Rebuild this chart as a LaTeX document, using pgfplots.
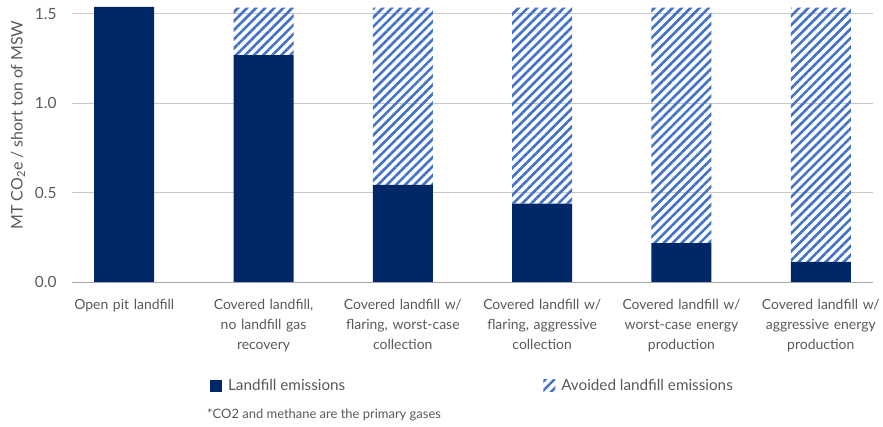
\documentclass[border=0pt]{standalone}
\usepackage{fontspec}
\setmainfont{Lato}
\usepackage{pgfplots}
\pgfplotsset{compat=1.18}
\usetikzlibrary{patterns.meta}
\definecolor{navy}{HTML}{002868}
\definecolor{stripe}{HTML}{4472C4}
\definecolor{txt}{HTML}{595959}
\definecolor{gridc}{HTML}{C8C8C8}
\definecolor{axisc}{HTML}{A6A6A6}
\begin{document}
\begin{tikzpicture}
\useasboundingbox (0,0) rectangle (883bp,427bp);
\begin{axis}[
  at={(72bp,145bp)}, anchor=south west,
  scale only axis, width=801bp, height=277bp,
  ybar stacked, bar width=60bp,
  xmin=-0.375, xmax=5.375, ymin=0, ymax=1.55,
  xtick={0,1,2,3,4,5},
  xticklabels={Open pit landfill,
    {Covered landfill,\\no landfill gas\\recovery},
    {Covered landfill w/\\flaring, worst-case\\collection},
    {Covered landfill w/\\flaring, aggressive\\collection},
    {Covered landfill w/\\worst-case energy\\production},
    {Covered landfill w/\\aggressive energy\\production}},
  ytick={0,0.5,1,1.5},
  y tick label style={/pgf/number format/fixed, /pgf/number format/fixed zerofill, /pgf/number format/precision=1, /pgf/number format/assume math mode=true},
  axis x line*=bottom, axis y line*=left,
  y axis line style={draw=none},
  x axis line style={draw=axisc, line width=1bp},
  major tick length=0pt,
  ymajorgrids, grid style={draw=gridc, line width=1bp},
  tick label style={text=txt, font={\fontsize{14}{20}\selectfont}},
  xticklabel style={align=center, text width=150bp, inner sep=0pt, anchor=north, yshift=-17bp},
  yticklabel style={xshift=-12bp, font={\fontsize{15.5}{18}\selectfont}},
  every axis y label/.style={at={(axis description cs:-0.0674,0.567)}, anchor=center, rotate=90},
  ylabel={MT CO\textsubscript{2}e / short ton of MSW},
  label style={text=txt, font={\fontsize{16}{19}\selectfont}},
  legend columns=2,
  legend style={at={(axis description cs:0.5,-0.375)}, anchor=center, draw=none, fill=none,
    font={\fontsize{15.3}{18}\selectfont}, text=txt,
    /tikz/every even column/.append style={column sep=196bp}},
  legend image code/.code={\fill[#1] (0bp,-6bp) rectangle (12bp,6bp); \path (16bp,0bp);},
]
\addplot+[fill=navy, draw=none] coordinates {(0,1.54) (1,1.27) (2,0.543) (3,0.438) (4,0.218) (5,0.112)};
\addlegendentry{Landfill emissions}
\addplot+[draw=none, pattern={Lines[angle=45,distance=6.4bp,line width=2.6bp]}, pattern color=stripe] coordinates {(0,0) (1,0.265) (2,0.992) (3,1.097) (4,1.317) (5,1.423)};
\addlegendentry{Avoided landfill emissions}
\end{axis}
\node[anchor=west, inner sep=0pt, text=txt, font={\fontsize{13}{15}\selectfont}] at (207bp,12bp) {*CO2 and methane are the primary gases};
\end{tikzpicture}
\end{document}
